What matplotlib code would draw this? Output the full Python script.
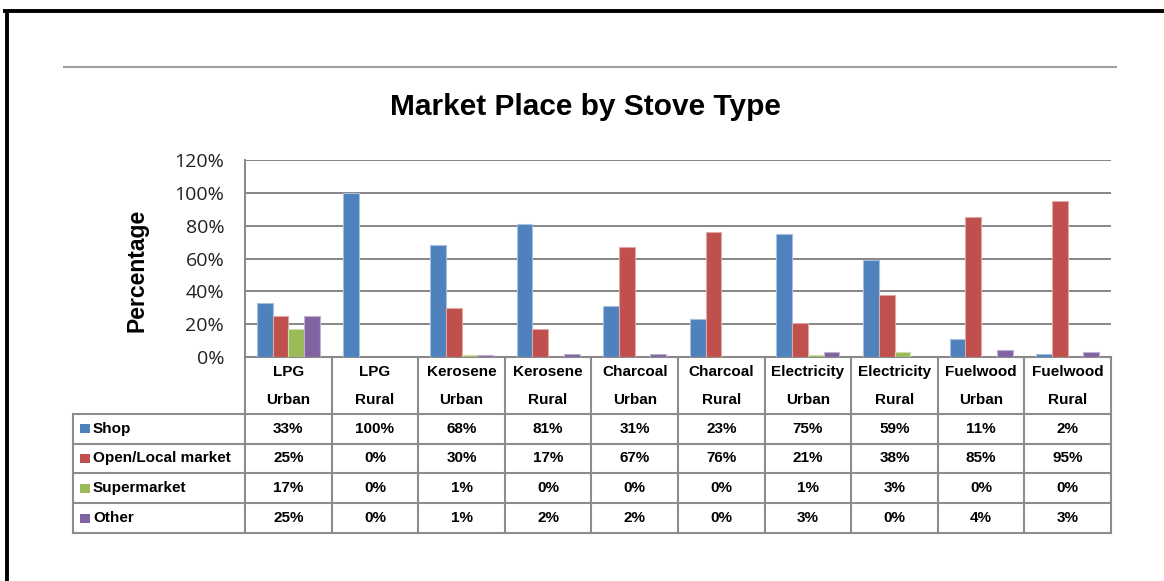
import matplotlib
matplotlib.use("Agg")
import matplotlib.pyplot as plt
from matplotlib.transforms import blended_transform_factory
from matplotlib.patches import Rectangle
import numpy as np

categories = ["LPG\nUrban", "LPG\nRural", "Kerosene\nUrban", "Kerosene\nRural",
              "Charcoal\nUrban", "Charcoal\nRural", "Electricity\nUrban",
              "Electricity\nRural", "Fuelwood\nUrban", "Fuelwood\nRural"]
series_names = ["Shop", "Open/Local market", "Supermarket", "Other"]
shop = [33, 100, 68, 81, 31, 23, 75, 59, 11, 2]
open_local = [25, 0, 30, 17, 67, 76, 21, 38, 85, 95]
supermarket = [17, 0, 1, 0, 0, 0, 1, 3, 0, 0]
other = [25, 0, 1, 2, 2, 0, 3, 0, 4, 3]
series_values = [shop, open_local, supermarket, other]
colors = ["#4F81BD", "#C0504D", "#9BBB59", "#8064A2"]
edge_colors = ["#A7C0DE", "#DFA8A6", "#CDDDAC", "#BFB1D0"]
yticks = [0, 20, 40, 60, 80, 100, 120]
title = "Market Place by Stove Type"
ylabel = "Percentage"

W, H = 1164, 581
fig = plt.figure(figsize=(W / 100, H / 100), dpi=100)
fig.patch.set_facecolor("white")

# overlay axes in pixel coordinates
ov = fig.add_axes([0, 0, 1, 1])
ov.set_xlim(0, W)
ov.set_ylim(H, 0)
ov.axis("off")

# main plot area
px_left, px_right, px_top, px_bottom = 245, 1111, 160, 357
ax = fig.add_axes([px_left / W, (H - px_bottom) / H,
                   (px_right - px_left) / W, (px_bottom - px_top) / H])
ax.set_facecolor("none")
n = len(categories)
x = np.arange(n)
bw = 0.182
offsets = (np.arange(4) - 1.5) * bw
for vals, off, c, ec in zip(series_values, offsets, colors, edge_colors):
    ax.bar(x + off, np.array(vals) / 100.0, width=bw, color=c,
           edgecolor=ec, linewidth=0.8, zorder=3)
ax.set_xlim(-0.5, n - 0.5)
ax.set_ylim(0, 1.2)
ax.set_yticks([t / 100 for t in yticks])
ax.set_yticklabels([f"{t}%" for t in yticks], fontfamily="Open Sans",
                   fontsize=14, color="#222222")
ax.set_xticks([])
ax.tick_params(axis="y", length=0, pad=15)
ax.grid(axis="y", color="#868686", linewidth=1.4, zorder=0)
for s in ["top", "right", "bottom"]:
    ax.spines[s].set_visible(False)
ax.spines["left"].set_color("#868686")
ax.spines["left"].set_linewidth(1.4)

# title & y-label
ov.text(585, 107, title, ha="center", va="center",
        fontfamily="Liberation Sans", fontweight="bold", fontsize=21.5,
        color="black")
ov.text(137, 270, ylabel, ha="center", va="center", rotation=90,
        fontfamily="Liberation Sans", fontweight="bold", fontsize=16.5,
        color="black")

# frame lines
ov.plot([63, 1117], [67, 67], color="#A0A0A0", lw=1.5, solid_capstyle="butt")
ov.plot([3, W], [11, 11], color="black", lw=2.8, solid_capstyle="butt")
ov.plot([7, 7], [9.5, H], color="black", lw=2.8, solid_capstyle="butt")

# data table
tr = blended_transform_factory(ax.transData, ov.transData)
gc = "#8C8C8C"
glw = 1.5
row_lines = [414, 443.5, 473, 503, 533]
tab_left = 73
for yl in row_lines:
    ov.plot([tab_left, px_right], [yl, yl], color=gc, lw=glw,
            solid_capstyle="projecting", zorder=2)
ov.plot([px_left, px_right], [px_bottom, px_bottom], color=gc, lw=glw,
        solid_capstyle="projecting", zorder=2)
for b in np.arange(n + 1) - 0.5:
    ov.plot([b, b], [px_bottom, row_lines[-1]], color=gc, lw=glw,
            transform=tr, solid_capstyle="projecting", zorder=2)
ov.plot([tab_left, tab_left], [row_lines[0], row_lines[-1]], color=gc,
        lw=glw, solid_capstyle="projecting", zorder=2)

tfont = dict(fontfamily="Liberation Sans", fontweight="bold", fontsize=11,
             color="black")
for i, cat in enumerate(categories):
    l1, l2 = cat.split("\n")
    ov.text(i, 372, l1, ha="center", va="center", transform=tr, **tfont)
    ov.text(i, 400, l2, ha="center", va="center", transform=tr, **tfont)
for r, (name, vals, c) in enumerate(zip(series_names, series_values, colors)):
    yc = (row_lines[r] + row_lines[r + 1]) / 2
    ov.add_patch(Rectangle((80, yc - 4.5), 10, 9, facecolor=c,
                           edgecolor="none", zorder=3))
    ov.text(93, yc, name, ha="left", va="center", **tfont)
    for i, v in enumerate(vals):
        ov.text(i, yc, f"{v}%", ha="center", va="center", transform=tr,
                **tfont)

fig.savefig("out.png", dpi=100, facecolor="white")
